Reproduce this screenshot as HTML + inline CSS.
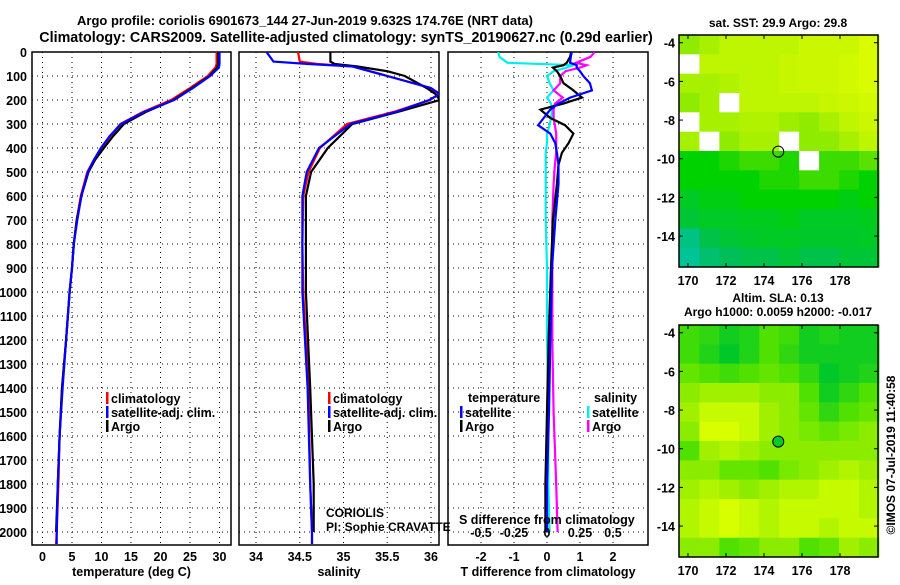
<!DOCTYPE html>
<html><head><meta charset="utf-8"><style>
body{margin:0;background:#fff}
svg text{font-family:"Liberation Sans",Arial,sans-serif}
.b{font-weight:bold;font-size:12.5px}
</style></head><body>
<svg id="s" width="900" height="580" xmlns="http://www.w3.org/2000/svg">
<text x="305" y="25" text-anchor="middle" class="b" style="font-size:13px">Argo profile: coriolis 6901673_144 27-Jun-2019 9.632S 174.76E (NRT data)</text>
<text x="346" y="42" text-anchor="middle" class="b" style="font-size:14.3px">Climatology: CARS2009. Satellite-adjusted climatology: synTS_20190627.nc (0.29d earlier)</text>
</svg>
<script>
// ---- data ----
const tDepths=[0,50,65,100,150,200,250,300,350,400,450,500,600,700,800,900,1000,1200,1400,1600,1800,2000,2050];
const tClim=[29.5,29.5,29.3,28,25,21.8,17,13.2,11.5,10,8.7,7.6,6.5,5.8,5.3,5.0,4.6,4.0,3.3,2.9,2.7,2.4,2.3];
const tSat=[30,30,29.9,28.4,25.5,22.3,17.2,13.3,11.4,9.9,8.7,7.7,6.6,5.9,5.3,5.0,4.6,4.0,3.4,2.9,2.6,2.4,2.4];
const tArgo=[29.8,29.8,29.6,28.3,25.3,22.2,17.5,13.8,12.0,10.4,8.9,7.8,6.6,5.8,5.3,5.0,4.6,4.0,3.3,2.9,2.6,2.3,null];
const sDepths=[0,40,50,60,80,100,150,175,200,250,300,400,500,600,800,1000,1400,1800,2000,2050];
const sClim=[34.48,34.5,34.7,35.1,35.3,35.5,35.99,36.09,35.99,35.57,35.04,34.73,34.6,34.54,34.53,34.54,34.6,34.62,34.64,34.64];
const sSat=[34.12,34.2,34.6,35.1,35.3,35.5,36.0,36.1,35.98,35.6,35.08,34.72,34.58,34.53,34.53,34.53,34.59,34.62,34.64,34.64];
const sArgo=[34.85,34.85,34.9,35.15,35.5,35.7,35.95,36.05,36.1,35.62,35.1,34.82,34.63,34.57,34.57,34.57,34.62,34.66,34.66,null];
const dDepths=[0,20,45,55,65,80,100,130,160,190,215,240,275,305,340,380,420,470,550,700,900,1200,1500,1800,2000];
const dTArgo=[0.73,0.7,0.6,0.5,0.18,0.3,0.4,0.5,0.8,1.06,0.5,-0.2,0.1,0.55,0.8,0.65,0.45,0.35,0.3,0.18,0.12,0.05,0.0,-0.05,-0.05];
const dTSat=[0.75,0.72,0.7,0.9,0.9,1.0,1.1,1.3,1.36,0.7,0.35,0.1,-0.1,-0.27,0.1,0.25,0.3,0.35,0.35,0.25,0.15,0.1,0.06,0.0,0.0];
const dSSat=[-0.37,-0.36,-0.3,0.2,0.15,0.05,0.0,0.02,0.05,0.0,0.03,0.04,0.03,0.02,0.0,0.0,-0.01,-0.01,-0.01,-0.01,0.0,0.0,0.01,0.01,0.02];
const dSArgo=[0.36,0.33,0.22,0.3,0.25,0.14,0.1,0.1,0.05,0.12,0.06,0.05,0.05,0.06,0.07,0.07,0.07,0.06,0.05,0.04,0.04,0.04,0.05,0.07,0.08];
const depthTicks=[0,100,200,300,400,500,600,700,800,900,1000,1100,1200,1300,1400,1500,1600,1700,1800,1900,2000];
const tTicks=[0,5,10,15,20,25,30];
const sTicks=[34,34.5,35,35.5,36];
const sTickLabels=["34","34.5","35","35.5","36"];
const dTTicks=[-2,-1,0,1,2];
const dSTicks=[-0.5,-0.25,0,0.25,0.5];
const dSTickLabels=["-0.5","-0.25","0","0.25","0.5"];
const latTicks=[-4,-6,-8,-10,-12,-14];
const lonTicks=[170,172,174,176,178];
const floatLon=174.75, floatLat=-9.63;
const sstGrid=[
[0.75,0.8,0.85,0.85,0.85,0.85,0.9,0.9,0.9,0.95],
[null,0.85,0.85,0.85,0.85,0.88,0.9,0.9,0.92,0.95],
[0.8,0.8,0.82,0.85,0.85,0.88,0.9,0.9,0.92,0.95],
[0.75,0.8,null,0.85,0.85,0.85,0.85,0.88,0.9,0.92],
[null,0.8,0.8,0.82,0.82,0.78,0.75,0.8,0.85,0.9],
[0.8,null,0.75,0.8,0.8,null,0.75,0.75,0.8,0.85],
[0.5,0.5,0.55,0.6,0.6,0.55,null,0.6,0.6,0.65],
[0.5,0.5,0.5,0.5,0.55,0.55,0.6,0.6,0.55,0.5],
[0.4,0.45,0.45,0.5,0.5,0.5,0.5,0.5,0.45,0.5],
[0.35,0.4,0.4,0.42,0.42,0.45,0.4,0.4,0.4,0.42],
[0.15,0.3,0.35,0.38,0.4,0.4,0.38,0.38,0.38,0.4],
[0.1,0.2,0.25,0.3,0.3,0.35,0.3,0.3,0.35,0.35]];
const slaGrid=[
[0.5,0.45,0.35,0.4,0.55,0.5,0.35,0.4,0.35,0.35],
[0.5,0.4,0.3,0.4,0.55,0.45,0.35,0.35,0.35,0.35],
[0.6,0.55,0.5,0.55,0.6,0.55,0.45,0.3,0.35,0.4],
[0.7,0.75,0.75,0.75,0.7,0.7,0.55,0.35,0.45,0.55],
[0.75,0.85,0.85,0.85,0.75,0.7,0.6,0.45,0.55,0.6],
[0.7,0.9,0.9,0.85,0.75,0.7,0.65,0.6,0.65,0.7],
[0.55,0.75,0.8,0.75,0.7,0.7,0.7,0.7,0.7,0.7],
[0.7,0.7,0.6,0.6,0.55,0.65,0.7,0.75,0.8,0.75],
[0.75,0.8,0.75,0.7,0.75,0.8,0.8,0.85,0.85,0.8],
[0.8,0.85,0.9,0.85,0.8,0.85,0.85,0.85,0.85,0.8],
[0.8,0.85,0.9,0.85,0.8,0.85,0.85,0.8,0.85,0.85],
[0.7,0.7,0.55,0.6,0.7,0.7,0.55,0.6,0.75,0.7]];

// ---- helpers ----
const S=document.getElementById('s'),NS='http://www.w3.org/2000/svg';
function mk(tag,at,parent){const e=document.createElementNS(NS,tag);for(const k in at)e.setAttribute(k,at[k]);(parent||S).appendChild(e);return e;}
function txt(x,y,s,anchor,cls,name){const e=mk('text',{x:x,y:y,'text-anchor':anchor||'start','class':cls||'b'});e.textContent=s;


return e;}
const yD=d=>52+d*0.24;
const PB=545;
function panel(x0,x1,xScale,xt,xtl,title,pname,showY){
  const g=mk('g',{});
  
  
  depthTicks.forEach(d=>{mk('line',{x1:x0,x2:x1,y1:yD(d),y2:yD(d),stroke:'#000','stroke-dasharray':'1,4'},g);
    if(showY){txt(x0-5,yD(d)+5,String(d),'end','b','depth-tick-label');}});
  xt.forEach((v,i)=>{const x=xScale(v);mk('line',{x1:x,x2:x,y1:52,y2:PB,stroke:'#000','stroke-dasharray':'1,4'},g);
    txt(x,561,xtl?xtl[i]:String(v),'middle','b','x-tick-label');});
  const r=mk('rect',{x:x0,y:52,width:x1-x0,height:PB-52,fill:'none',stroke:'#000','stroke-width':1.5},g);
  
  
  txt((x0+x1)/2,576,title,'middle','b','x-axis-title');
}
function line(depths,vals,xScale,color,name,clip){
  let d='';let pen=false;
  depths.forEach((z,i)=>{if(vals[i]==null){pen=false;return;}d+=(pen?'L':'M')+xScale(vals[i]).toFixed(1)+','+yD(Math.min(z,2054)).toFixed(1);pen=true;});
  const p=mk('path',{d:d,fill:'none',stroke:color,'stroke-width':2.2,'clip-path':'url(#'+clip+')'});
  
  
}
const defs=mk('defs',{});
[['c1',32,231],['c2',239,439],['c3',448,648]].forEach(c=>{const cp=mk('clipPath',{id:c[0]},defs);mk('rect',{x:c[1],y:52,width:c[2]-c[1],height:PB-52},cp);});

const xT=v=>42.5+v*5.9;
panel(32,231,xT,tTicks,null,'temperature (deg C)','temperature-panel',true);
line(tDepths,tClim,xT,'#f00','temperature-climatology-line','c1');
line(tDepths,tArgo,xT,'#000','temperature-argo-line','c1');
line(tDepths,tSat,xT,'#00f','temperature-satellite-line','c1');
const xS=v=>256+(v-34)*87.5;
panel(239,439,xS,sTicks,sTickLabels,'salinity','salinity-panel',false);
line(sDepths,sClim,xS,'#f00','salinity-climatology-line','c2');
line(sDepths,sArgo,xS,'#000','salinity-argo-line','c2');
line(sDepths,sSat,xS,'#00f','salinity-satellite-line','c2');
const xDT=v=>547+v*33, xDS=v=>547+v*132;
panel(448,648,xDT,dTTicks,null,'T difference from climatology','difference-panel',false);
line(dDepths,dSSat,xDS,'#0ee','salinity-diff-satellite-line','c3');
line(dDepths,dSArgo,xDS,'#f0f','salinity-diff-argo-line','c3');
line(dDepths,dTArgo,xDT,'#000','temperature-diff-argo-line','c3');
line(dDepths,dTSat,xDT,'#00f','temperature-diff-satellite-line','c3');
txt(459,524,'S difference from climatology','start','b','s-diff-axis-title');
dSTicks.forEach((v,i)=>txt(xDS(v),537,dSTickLabels[i],'middle','b','s-diff-tick-label'));

function leg(x,y,color,label,name){const r=mk('rect',{x:x,y:y-6,width:2.5,height:12,fill:color});


txt(x+5,y+5,label,'start','b',name);}
leg(106,398,'#f00','climatology','legend-climatology');
leg(106,412,'#00f','satellite-adj. clim.','legend-satellite-adj');
leg(106,426,'#000','Argo','legend-argo');
leg(328,398,'#f00','climatology','legend2-climatology');
leg(328,412,'#00f','satellite-adj. clim.','legend2-satellite-adj');
leg(328,426,'#000','Argo','legend2-argo');
txt(468,402,'temperature','start','b','legend-temperature-header');
leg(460,412,'#00f','satellite','legend-t-satellite');
leg(460,426,'#000','Argo','legend-t-argo');
txt(594,402,'salinity','start','b','legend-salinity-header');
leg(587,412,'#0ee','satellite','legend-s-satellite');
leg(587,426,'#f0f','Argo','legend-s-argo');
txt(326,517,'CORIOLIS','start','','data-center-label').setAttribute('style','font-size:12px');
txt(326,531,'PI: Sophie CRAVATTE','start','','pi-label').setAttribute('style','font-size:12px');

function sstColor(v){const st=[[0,[0,200,190]],[0.25,[0,190,90]],[0.5,[0,210,0]],[0.7,[120,230,0]],[0.85,[190,245,0]],[1,[230,255,0]]];
 for(let i=1;i<st.length;i++)if(v<=st[i][0]){const a=st[i-1],b=st[i],t=(v-a[0])/(b[0]-a[0]);return 'rgb('+a[1].map((c,k)=>Math.round(c+(b[1][k]-c)*t)).join(',')+')';}return 'rgb(230,255,0)';}
function slaColor(v){const st=[[0.3,[0,200,40]],[0.55,[80,225,0]],[0.75,[160,240,0]],[0.9,[215,255,0]]];
 if(v<=0.3)return 'rgb(0,200,40)';
 for(let i=1;i<st.length;i++)if(v<=st[i][0]){const a=st[i-1],b=st[i],t=(v-a[0])/(b[0]-a[0]);return 'rgb('+a[1].map((c,k)=>Math.round(c+(b[1][k]-c)*t)).join(',')+')';}return 'rgb(215,255,0)';}
function map(top,grid,colorFn,pname,filled){
  const g=mk('g',{});
  
  
  const L=679,R=878,H=232;
  const xL=lon=>688+(lon-170)*19, yL=lat=>top+(-3.6-lat)/12*H;
  grid.forEach((row,ri)=>row.forEach((v,ci)=>{
    const x0=xL(169.55+ci*1.05),x1=xL(169.55+(ci+1)*1.05);
    const c=mk('rect',{x:x0,y:yL(-3.6-ri),width:x1-x0+0.5,height:H/12+0.5,fill:v==null?'#fff':colorFn(v)},g);
    
    
  }));
  const f=mk('rect',{x:L,y:top,width:R-L,height:H,fill:'none',stroke:'#000','stroke-width':1.5},g);
  
  
  latTicks.forEach(l=>{const y=yL(l);mk('line',{x1:L,x2:L+4,y1:y,y2:y,stroke:'#000'},g);mk('line',{x1:R-4,x2:R,y1:y,y2:y,stroke:'#000'},g);
    txt(L-4,y+5,String(l),'end','b','latitude-tick-label');});
  lonTicks.forEach(l=>{const x=xL(l);mk('line',{x1:x,x2:x,y1:top,y2:top+4,stroke:'#000'},g);mk('line',{x1:x,x2:x,y1:top+H-4,y2:top+H,stroke:'#000'},g);
    txt(x,top+H+18,String(l),'middle','b','longitude-tick-label');});
  const m=mk('circle',{cx:xL(floatLon),cy:yL(floatLat),r:5.5,fill:filled?'#00cc22':'none',stroke:'#000','stroke-width':1},g);
  
  
}
map(35,sstGrid,sstColor,'sst-map',false);
map(325,slaGrid,slaColor,'sla-map',true);
txt(778,27,'sat. SST: 29.9 Argo: 29.8','middle','b','sst-map-title').setAttribute('style','font-size:12px');
txt(778,302,'Altim. SLA: 0.13','middle','b','sla-map-title').setAttribute('style','font-size:12px');
txt(778,316,'Argo h1000: 0.0059 h2000: -0.017','middle','b','sla-map-subtitle').setAttribute('style','font-size:12px');
const cr=txt(0,0,'©IMOS 07-Jul-2019 11:40:58','middle','','timestamp-credit');
cr.setAttribute('transform','translate(895,455) rotate(-90)');
cr.setAttribute('style','font-size:12px');
</script>
</body></html>
